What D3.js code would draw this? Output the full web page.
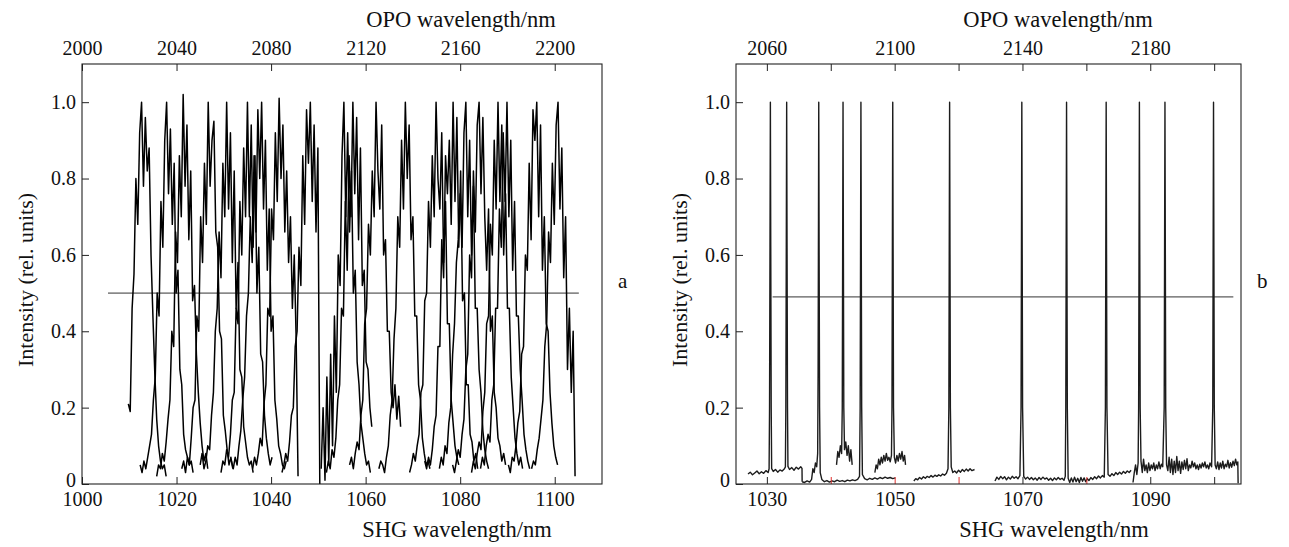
<!DOCTYPE html>
<html>
<head>
<meta charset="utf-8">
<script src="https://cdn.jsdelivr.net/npm/d3@7"></script>
<style>
  body { margin: 0; background: #fff; }
  svg text { font-family: "Liberation Serif", "Times New Roman", serif; fill: #111; }
</style>
</head>
<body>
<svg id="chart" width="1289" height="547"></svg>
<script>
// ---------- data ----------

// panel a: tuned SHG spectra, one scan per array, sampled every 0.4 nm from its start
const scanStep = 0.4;
const scanStarts = [1009.8, 1012.3, 1015.8, 1021.1, 1025.0, 1029.4, 1031.6, 1036.1, 1042.3, 1050.6,
                    1051.7, 1056.6, 1062.8, 1069.3, 1072.5, 1075.6, 1078.4, 1082.4, 1084.3, 1090.2, 1095.1];
const scans = [
  [0.21,0.19,0.46,0.55,0.8,0.68,0.92,1.0,0.78,0.96,0.82,0.88,0.6,0.44,0.29,0.17,0.1,0.06,0.04,0.05,0.02],
  [0.05,0.03,0.06,0.04,0.07,0.1,0.13,0.22,0.28,0.5,0.44,0.74,0.62,0.9,1.0,0.76,0.93,0.68,0.84,0.5,0.56,0.3,0.26,0.13,0.09,0.07,0.05,0.06,0.03],
  [0.02,0.05,0.04,0.08,0.06,0.11,0.17,0.22,0.4,0.36,0.66,0.58,0.86,0.7,1.02,0.78,0.94,0.64,0.82,0.48,0.52,0.34,0.24,0.16,0.1,0.06,0.08,0.04],
  [0.04,0.06,0.03,0.07,0.05,0.12,0.2,0.22,0.44,0.4,0.7,0.58,0.84,0.68,1.0,0.78,0.9,0.95,0.66,0.62,0.4,0.38,0.18,0.14,0.09,0.05,0.07,0.04],
  [0.05,0.08,0.04,0.06,0.1,0.09,0.18,0.24,0.4,0.46,0.66,0.54,0.84,0.7,1.0,0.72,0.92,0.58,0.82,0.46,0.58,0.3,0.28,0.15,0.11,0.07,0.05,0.06,0.03],
  [0.03,0.06,0.05,0.09,0.07,0.13,0.22,0.24,0.46,0.42,0.74,0.6,0.88,0.7,1.0,0.7,0.94,0.62,0.86,0.5,0.62,0.34,0.32,0.18,0.12,0.08,0.05,0.07],
  [0.06,0.04,0.07,0.05,0.1,0.14,0.22,0.28,0.44,0.5,0.7,0.58,0.86,0.66,0.98,0.8,1.0,0.72,0.9,0.56,0.72,0.4,0.44,0.22,0.17,0.1,0.08,0.05,0.04,0.06],
  [0.04,0.07,0.05,0.08,0.12,0.1,0.21,0.26,0.46,0.44,0.72,0.64,0.92,0.74,1.01,0.8,0.94,0.66,0.82,0.58,0.7,0.46,0.6,0.38,0.02],
  [0.03,0.05,0.08,0.06,0.11,0.18,0.2,0.36,0.4,0.62,0.52,0.86,0.68,0.98,0.84,1.0,0.74,0.94,0.66,0.88,0.0],
  [0.04,0.2,0.01,0.28,0.05,0.34,0.1,0.44,0.24,0.6,0.52,0.86,1.0,0.7,0.92,0.66,0.82,0.5,0.56,0.32,0.26,0.16,0.12,0.08,0.05,0.06,0.03],
  [0.03,0.06,0.04,0.09,0.07,0.12,0.22,0.26,0.46,0.44,0.74,0.56,0.86,0.7,1.0,0.76,0.96,0.64,0.88,0.52,0.56,0.32,0.3,0.2,0.15],
  [0.05,0.07,0.04,0.08,0.11,0.09,0.18,0.22,0.42,0.46,0.68,0.6,0.82,0.7,1.0,0.82,0.72,0.94,0.6,0.64,0.4,0.4,0.24,0.2,0.26,0.17,0.23,0.15],
  [0.04,0.06,0.05,0.03,0.07,0.1,0.18,0.22,0.38,0.46,0.7,0.62,0.9,0.72,1.0,0.8,0.94,0.64,0.7,0.44,0.44,0.26,0.22,0.12,0.08,0.05,0.06,0.04],
  [0.03,0.05,0.08,0.06,0.1,0.13,0.24,0.26,0.48,0.5,0.74,0.62,0.86,0.7,1.0,0.8,0.72,0.92,0.58,0.74,0.42,0.42,0.22,0.16,0.1,0.07,0.05],
  [0.06,0.04,0.07,0.05,0.09,0.15,0.18,0.36,0.36,0.64,0.54,0.86,0.76,0.9,0.68,1.0,0.74,0.96,0.62,0.82,0.48,0.5,0.26,0.26,0.13,0.11,0.06,0.08,0.04],
  [0.04,0.07,0.05,0.1,0.08,0.16,0.2,0.34,0.42,0.58,0.64,0.76,0.62,0.92,1.0,0.7,0.9,0.6,0.78,0.46,0.46,0.3,0.24,0.14,0.09,0.06,0.04],
  [0.05,0.03,0.06,0.09,0.07,0.13,0.17,0.3,0.34,0.6,0.54,0.82,0.66,0.94,1.0,0.76,0.96,0.7,0.56,0.72,0.4,0.44,0.24,0.2,0.12,0.1,0.06,0.08,0.05],
  [0.03,0.06,0.04,0.08,0.11,0.09,0.19,0.24,0.42,0.44,0.68,0.6,0.9,0.72,1.0,0.74,0.94,0.6,0.76,0.46,0.46,0.28,0.2,0.12,0.08,0.05,0.07,0.04],
  [0.04,0.07,0.05,0.1,0.13,0.11,0.22,0.26,0.46,0.46,0.72,0.62,0.92,0.74,1.0,0.7,0.9,0.56,0.74,0.44,0.44,0.3,0.22,0.13,0.09,0.06,0.04],
  [0.05,0.03,0.07,0.06,0.1,0.16,0.19,0.34,0.36,0.6,0.56,0.84,0.64,0.98,0.9,1.0,0.7,0.94,0.56,0.7,0.42,0.4,0.24,0.16,0.1,0.07,0.05],
  [0.04,0.06,0.05,0.09,0.12,0.17,0.22,0.36,0.42,0.66,0.58,0.84,0.68,0.94,1.0,0.72,0.88,0.54,0.7,0.3,0.46,0.24,0.4,0.02]
];
const levelA = [[1005.5, 0.5], [1105.1, 0.5]];

// panel b: narrow lines, [SHG nm, intensity] per recorded piece
const pieceA = [[1027.05,0.026],[1027.4,0.031],[1027.75,0.024],[1028.1,0.029],[1028.45,0.034],[1028.8,0.027],[1029.15,0.032],[1029.5,0.028],[1029.85,0.035],[1030.2,0.03],[1030.35,0.04],[1030.42,0.2],[1030.49,0.62],[1030.55,1.0],[1030.61,0.62],[1030.68,0.2],[1030.75,0.04],[1031.0,0.033],[1031.35,0.038],[1031.7,0.031],[1032.05,0.037],[1032.4,0.034],[1032.75,0.04],[1032.9,0.045],[1032.97,0.2],[1033.04,0.62],[1033.1,1.0],[1033.16,0.62],[1033.23,0.2],[1033.3,0.046],[1033.55,0.038],[1033.9,0.043],[1034.25,0.036],[1034.6,0.044],[1034.95,0.039],[1035.3,0.045],[1035.5,0.041],[1035.52,0.006]];
const pieceLow = [[1035.52,0.006],[1035.9,0.004],[1036.3,0.008],[1036.7,0.005],[1037.0,0.012],[1037.2,0.04],[1037.4,0.03],[1037.6,0.055],[1037.8,0.045],[1037.95,0.08],[1038.02,0.3],[1038.08,0.7],[1038.12,1.0],[1038.18,0.6],[1038.25,0.2],[1038.35,0.03],[1038.6,0.012],[1039.0,0.006],[1039.4,0.009],[1039.8,0.005],[1040.2,0.008],[1040.6,0.006],[1041.0,0.01],[1041.4,0.007],[1041.8,0.009],[1042.2,0.006],[1042.6,0.01],[1043.0,0.008],[1043.4,0.011],[1043.8,0.009],[1044.2,0.012],[1044.5,0.02],[1044.6,0.2],[1044.66,0.6],[1044.72,1.0],[1044.78,0.6],[1044.84,0.2],[1044.95,0.025],[1045.3,0.014],[1045.7,0.011],[1046.1,0.015],[1046.5,0.012],[1046.9,0.016],[1047.3,0.013],[1047.7,0.017],[1048.1,0.014],[1048.5,0.018],[1048.9,0.015],[1049.3,0.017],[1049.7,0.014],[1050.1,0.016]];
const pieceB = [[1040.9,0.05],[1041.1,0.085],[1041.3,0.07],[1041.5,0.1],[1041.7,0.08],[1041.8,0.2],[1041.86,0.6],[1041.92,1.0],[1041.98,0.6],[1042.04,0.2],[1042.15,0.09],[1042.35,0.11],[1042.55,0.075],[1042.75,0.1],[1042.95,0.06],[1043.15,0.09],[1043.35,0.05]];
const pieceD = [[1046.9,0.03],[1047.1,0.05],[1047.3,0.04],[1047.5,0.065],[1047.7,0.05],[1047.9,0.07],[1048.1,0.055],[1048.3,0.075],[1048.5,0.06],[1048.7,0.08],[1048.9,0.062],[1049.1,0.07],[1049.3,0.058],[1049.5,0.075],[1049.58,0.2],[1049.64,0.6],[1049.7,1.0],[1049.76,0.6],[1049.82,0.2],[1049.95,0.07],[1050.15,0.055],[1050.35,0.075],[1050.55,0.06],[1050.75,0.08],[1050.95,0.065],[1051.15,0.085],[1051.35,0.06],[1051.55,0.075],[1051.7,0.05]];
const pieceE = [[1053.0,0.008],[1053.3,0.014],[1053.6,0.011],[1053.9,0.017],[1054.2,0.013],[1054.5,0.019],[1054.8,0.015],[1055.1,0.02],[1055.4,0.017],[1055.7,0.022],[1056.0,0.018],[1056.3,0.023],[1056.6,0.02],[1056.9,0.024],[1057.2,0.021],[1057.5,0.026],[1057.8,0.023],[1058.1,0.028],[1058.35,0.04],[1058.48,0.2],[1058.54,0.6],[1058.6,1.0],[1058.66,0.6],[1058.72,0.2],[1058.85,0.045],[1059.1,0.03],[1059.4,0.034],[1059.7,0.029],[1060.0,0.036],[1060.3,0.031],[1060.6,0.038],[1060.9,0.033],[1061.2,0.039],[1061.5,0.034],[1061.8,0.04],[1062.1,0.035],[1062.5,0.038]];
const pieceF = [[1065.7,0.008],[1066.0,0.018],[1066.3,0.012],[1066.6,0.02],[1066.9,0.014],[1067.2,0.019],[1067.5,0.011],[1067.8,0.018],[1068.1,0.013],[1068.4,0.02],[1068.7,0.015],[1069.0,0.019],[1069.3,0.014],[1069.6,0.022],[1069.78,0.2],[1069.84,0.6],[1069.9,1.0],[1069.96,0.6],[1070.02,0.2],[1070.2,0.02],[1070.5,0.013],[1070.8,0.018],[1071.1,0.012],[1071.4,0.017],[1071.7,0.011],[1072.0,0.016],[1072.3,0.01],[1072.6,0.017],[1072.9,0.012],[1073.2,0.018],[1073.5,0.013],[1073.8,0.016],[1074.1,0.01],[1074.4,0.015],[1074.7,0.009],[1075.0,0.016],[1075.3,0.011],[1075.6,0.017],[1075.9,0.012],[1076.2,0.015],[1076.5,0.01],[1076.7,0.02],[1076.78,0.2],[1076.84,0.6],[1076.9,1.0],[1076.96,0.6],[1077.02,0.2],[1077.15,0.015],[1077.4,0.004],[1077.65,0.016],[1077.9,0.005],[1078.15,0.018],[1078.4,0.006],[1078.65,0.015],[1078.9,0.004],[1079.15,0.017],[1079.4,0.007],[1079.65,0.016],[1079.9,0.006],[1080.15,0.014],[1080.4,0.009],[1080.7,0.017],[1081.0,0.012],[1081.3,0.019],[1081.6,0.014],[1081.9,0.021],[1082.2,0.016],[1082.5,0.022],[1082.8,0.018],[1082.98,0.2],[1083.04,0.6],[1083.1,1.0],[1083.16,0.6],[1083.22,0.2],[1083.4,0.025],[1083.7,0.02],[1084.0,0.027],[1084.3,0.022],[1084.6,0.03],[1084.9,0.025],[1085.2,0.031],[1085.5,0.026],[1085.8,0.033],[1086.1,0.028],[1086.4,0.034],[1086.7,0.03],[1087.0,0.036]];
const pieceG = [[1087.3,0.004],[1087.5,0.03],[1087.7,0.05],[1087.9,0.025],[1088.1,0.055],[1088.18,0.2],[1088.24,0.6],[1088.3,1.0],[1088.36,0.6],[1088.42,0.2],[1088.55,0.06],[1088.75,0.03],[1088.95,0.065],[1089.15,0.035],[1089.35,0.05],[1089.55,0.03],[1089.75,0.055],[1089.95,0.035],[1090.15,0.05],[1090.35,0.04],[1090.55,0.055],[1090.75,0.035],[1090.95,0.05],[1091.15,0.04],[1091.35,0.058],[1091.55,0.04],[1091.75,0.052],[1091.95,0.045],[1092.18,0.2],[1092.24,0.6],[1092.3,1.0],[1092.36,0.6],[1092.42,0.2],[1092.55,0.05],[1092.75,0.035],[1092.95,0.07],[1093.15,0.03],[1093.35,0.065],[1093.55,0.025],[1093.75,0.06],[1093.95,0.03],[1094.15,0.072],[1094.35,0.035],[1094.55,0.06],[1094.75,0.028],[1094.95,0.058],[1095.15,0.038],[1095.35,0.062],[1095.55,0.04],[1095.75,0.066],[1095.95,0.035],[1096.15,0.05],[1096.35,0.042],[1096.55,0.06],[1096.75,0.045],[1096.95,0.055],[1097.15,0.04],[1097.35,0.05],[1097.55,0.038],[1097.75,0.052],[1097.95,0.042],[1098.15,0.055],[1098.35,0.045],[1098.55,0.058],[1098.75,0.042],[1098.95,0.05],[1099.15,0.04],[1099.35,0.055],[1099.6,0.045],[1099.78,0.2],[1099.84,0.6],[1099.9,1.0],[1099.96,0.6],[1100.02,0.2],[1100.15,0.05],[1100.35,0.04],[1100.55,0.058],[1100.75,0.038],[1100.95,0.055],[1101.15,0.042],[1101.35,0.06],[1101.55,0.04],[1101.75,0.052],[1101.95,0.045],[1102.15,0.062],[1102.35,0.042],[1102.55,0.056],[1102.75,0.044],[1102.95,0.06],[1103.15,0.048],[1103.35,0.065],[1103.55,0.05],[1103.7,0.058],[1103.75,0.002]];
const levelB = [[1030.9, 0.49], [1103.0, 0.49]];

// axes
const ticksY = [0, 0.2, 0.4, 0.6, 0.8, 1.0];
const ticksA = [1000, 1020, 1040, 1060, 1080, 1100];
const ticksATop = [2000, 2040, 2080, 2120, 2160, 2200];
const ticksB = [1030, 1040, 1050, 1060, 1070, 1080, 1090, 1100];
const labelsB = [1030, 1050, 1070, 1090];
const ticksBTop = [2060, 2080, 2100, 2120, 2140, 2160, 2180, 2200];
const labelsBTop = [2060, 2100, 2140, 2180];
const redTicksB = [1040, 1050, 1060, 1080];

// ---------- drawing ----------
const svg = d3.select("#chart");
const plotTop = 64, plotBottom = 484;
const y = d3.scaleLinear().domain([0, 1.1]).range([plotBottom, plotTop]);

function drawPanel(p) {
  const x = d3.scaleLinear().domain(p.domain).range([p.left, p.right]);
  const xTop = d3.scaleLinear().domain(p.domain.map(d => d * 2)).range([p.left, p.right]);
  const g = svg.append("g");

  g.append("clipPath").attr("id", p.id + "clip")
    .append("rect").attr("x", p.left).attr("y", plotTop)
    .attr("width", p.right - p.left).attr("height", plotBottom - plotTop);

  const line = d3.line().x(d => x(d[0])).y(d => y(d[1]));
  const plot = g.append("g").attr("clip-path", `url(#${p.id}clip)`);

  // 0.5 level
  plot.append("path").attr("d", line(p.level))
    .attr("fill", "none").attr("stroke", "#333").attr("stroke-width", 1);

  plot.selectAll("path.trace").data(p.traces).enter().append("path")
    .attr("class", "trace")
    .attr("d", line)
    .attr("fill", "none")
    .attr("stroke", p.color)
    .attr("stroke-width", p.width)
    .attr("stroke-linejoin", "round");

  const fmtY = d => d === 0 ? "0" : d3.format(".1f")(d);

  const axB = g.append("g").attr("transform", `translate(0,${plotBottom})`)
    .call(d3.axisBottom(x).tickValues(p.ticks).tickSizeInner(-7).tickSizeOuter(0).tickPadding(8)
      .tickFormat(d => p.labels.includes(d) ? d : ""));
  const axT = g.append("g").attr("transform", `translate(0,${plotTop})`)
    .call(d3.axisTop(xTop).tickValues(p.ticksTop).tickSizeInner(-7).tickSizeOuter(0).tickPadding(9)
      .tickFormat(d => p.labelsTop.includes(d) ? d : ""));
  const axL = g.append("g").attr("transform", `translate(${p.left},0)`)
    .call(d3.axisLeft(y).tickValues(ticksY).tickSizeInner(-7).tickSizeOuter(0).tickPadding(6)
      .tickFormat(fmtY));

  [axB, axT, axL].forEach(a => {
    a.select(".domain").remove();
    a.selectAll("line").attr("stroke", "#222");
    a.selectAll("text").attr("font-size", 20).attr("fill", "#111")
      .attr("font-family", '"Liberation Serif", serif');
  });
  axB.selectAll(".tick line").filter(d => p.red.includes(d)).attr("stroke", "#e0322f");
  // the "0" sits right at the corner, just above the bottom labels
  axL.selectAll(".tick text").filter(d => d === 0).attr("dy", "0.1em");

  g.append("rect").attr("x", p.left).attr("y", plotTop)
    .attr("width", p.right - p.left).attr("height", plotBottom - plotTop)
    .attr("fill", "none").attr("stroke", "#222").attr("stroke-width", 1.1);

  g.append("text").attr("x", p.titleX).attr("y", 27).attr("text-anchor", "middle")
    .attr("font-size", 22.5).text("OPO wavelength/nm");
  g.append("text").attr("x", p.titleX - 4).attr("y", 537).attr("text-anchor", "middle")
    .attr("font-size", 22.5).text("SHG wavelength/nm");
  g.append("text").attr("transform", `translate(${p.left - 49},280) rotate(-90)`)
    .attr("text-anchor", "middle").attr("font-size", 22).text("Intensity (rel. units)");
  g.append("text").attr("x", p.right + 16).attr("y", 288)
    .attr("font-size", 21).text(p.tag);
}

drawPanel({
  id: "a", left: 82, right: 602, domain: [1000, 1110],
  traces: scans.map((s, i) => s.map((v, k) => [scanStarts[i] + k * scanStep, v])),
  level: levelA, color: "#000", width: 1.5,
  ticks: ticksA, labels: ticksA, ticksTop: ticksATop, labelsTop: ticksATop, red: [],
  titleX: 461, tag: "a"
});

drawPanel({
  id: "b", left: 736, right: 1241, domain: [1025.17, 1104.2],
  traces: [pieceA, pieceLow, pieceB, pieceD, pieceE, pieceF, pieceG],
  level: levelB, color: "#1c1c1c", width: 1.4,
  ticks: ticksB, labels: labelsB, ticksTop: ticksBTop, labelsTop: labelsBTop, red: redTicksB,
  titleX: 1058, tag: "b"
});
</script>
</body>
</html>
